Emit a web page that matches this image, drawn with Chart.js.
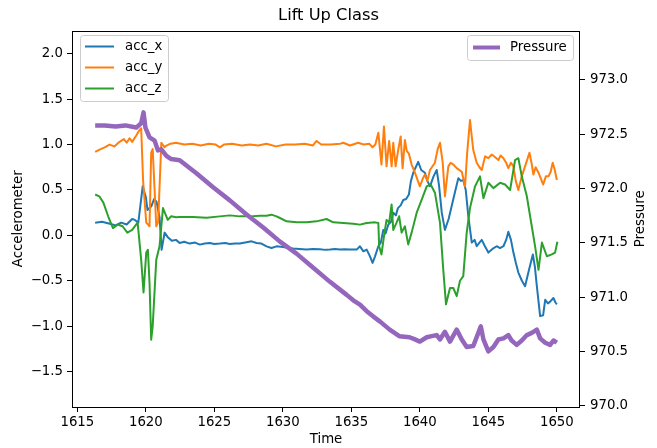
<!DOCTYPE html>
<html><head><meta charset="utf-8">
<script src="https://cdn.jsdelivr.net/npm/chart.js@4"></script>
<style>html,body{margin:0;padding:0;background:#fff}canvas{display:block}</style>
</head><body>
<canvas id="c" width="657" height="448"></canvas>
<script>
const chartTitle = 'Lift Up Class';
const seriesNames = ['acc_x', 'acc_y', 'acc_z'];
const pressureName = 'Pressure';

const timeX = [1616.3,1616.8,1617.3,1617.8,1618.2,1618.6,1619.0,1619.2,1619.45,1619.77,1620.0,1620.12,1620.4,1620.6,1620.78,1621.0,1621.15,1621.37,1621.6,1621.9,1622.2,1622.47,1622.8,1623.2,1623.6,1623.94,1624.3,1624.67,1625.0,1625.4,1625.8,1626.13,1626.5,1626.86,1627.35,1627.72,1628.08,1628.44,1628.81,1629.17,1629.54,1630.02,1630.4,1630.76,1631.2,1631.73,1632.2,1632.7,1633.1,1633.44,1633.8,1634.17,1634.5,1634.9,1635.39,1635.63,1635.88,1636.12,1636.36,1636.55,1636.73,1636.97,1637.15,1637.33,1637.5,1637.7,1637.9,1638.06,1638.25,1638.4,1638.6,1638.79,1639.0,1639.2,1639.35,1639.52,1639.7,1639.88,1640.1,1640.37,1640.55,1640.74,1641.0,1641.23,1641.4,1641.6,1641.83,1642.1,1642.32,1642.6,1642.81,1643.0,1643.17,1643.35,1643.54,1643.79,1644.0,1644.15,1644.35,1644.52,1644.75,1645.0,1645.3,1645.61,1645.85,1646.1,1646.3,1646.46,1646.65,1646.83,1647.0,1647.19,1647.45,1647.68,1647.92,1648.1,1648.25,1648.4,1648.54,1648.78,1649.0,1649.15,1649.35,1649.51,1649.75,1649.9,1650.0];
const accX = [0.14,0.15,0.13,0.11,0.14,0.12,0.18,0.17,0.14,0.54,0.42,0.28,0.32,0.4,0.37,0.2,-0.16,0.03,-0.02,-0.06,-0.05,-0.084,-0.07,-0.091,-0.08,-0.102,-0.09,-0.084,-0.095,-0.091,-0.085,-0.095,-0.09,-0.091,-0.077,-0.066,-0.084,-0.091,-0.121,-0.139,-0.121,-0.128,-0.14,-0.146,-0.15,-0.157,-0.15,-0.152,-0.16,-0.157,-0.15,-0.157,-0.153,-0.157,-0.157,-0.121,-0.176,-0.157,-0.231,-0.304,-0.231,-0.12,-0.08,0.06,0.02,0.12,0.15,0.25,0.22,0.3,0.33,0.39,0.4,0.45,0.6,0.69,0.75,0.81,0.72,0.69,0.6,0.54,0.65,0.72,0.55,0.25,0.06,0.18,0.32,0.5,0.63,0.6,0.61,0.5,0.21,-0.08,-0.05,-0.12,-0.08,-0.05,-0.12,-0.19,-0.15,-0.12,-0.14,-0.12,-0.05,0.04,-0.05,-0.19,-0.3,-0.41,-0.5,-0.56,-0.41,-0.3,-0.21,-0.35,-0.56,-0.89,-0.88,-0.71,-0.75,-0.73,-0.69,-0.74,-0.76];

const timeY = [1616.3,1616.7,1617.0,1617.35,1617.7,1618.08,1618.4,1618.6,1618.81,1619.0,1619.3,1619.54,1619.66,1619.8,1620.03,1620.27,1620.39,1620.5,1620.64,1620.76,1620.9,1621.13,1621.37,1621.4,1621.8,1622.2,1622.8,1623.4,1624.0,1624.6,1625.1,1625.4,1625.7,1626.3,1627.0,1627.6,1628.2,1628.8,1629.5,1630.2,1630.9,1631.6,1632.2,1632.46,1632.8,1633.5,1634.2,1634.41,1634.9,1635.5,1635.9,1636.3,1636.55,1636.75,1636.97,1637.2,1637.38,1637.57,1637.76,1637.94,1638.06,1638.23,1638.42,1638.6,1638.74,1638.91,1639.04,1639.2,1639.4,1639.64,1640.0,1640.2,1640.37,1640.55,1640.74,1641.1,1641.3,1641.47,1641.67,1641.83,1642.08,1642.25,1642.44,1642.69,1643.06,1643.3,1643.45,1643.66,1643.9,1644.15,1644.35,1644.52,1644.76,1645.0,1645.25,1645.5,1645.73,1645.9,1646.1,1646.3,1646.46,1646.65,1646.83,1647.0,1647.19,1647.44,1647.68,1648.0,1648.15,1648.29,1648.45,1648.66,1648.85,1649.0,1649.2,1649.39,1649.55,1649.7,1649.85,1650.0];
const accY = [0.92,0.95,0.97,1.0,0.98,1.03,1.06,1.02,1.07,1.03,1.1,1.16,1.18,0.6,0.14,0.1,0.91,0.95,0.5,0.1,0.15,1.02,0.97,0.98,1.01,1.02,1.0,1.01,0.99,1.01,1.0,0.97,1.0,1.01,0.99,1.0,0.99,1.01,0.98,1.0,1.0,1.01,0.99,1.04,1.0,1.0,1.01,1.02,0.99,1.02,1.0,1.01,0.97,1.0,1.13,0.78,1.2,0.76,1.04,0.76,1.02,0.76,0.94,1.09,0.74,1.05,0.93,0.9,0.78,0.69,0.54,0.62,0.67,0.6,0.72,0.8,0.95,1.02,0.8,0.43,0.76,0.8,0.78,0.74,0.7,0.54,0.9,1.27,0.94,0.8,0.75,0.72,0.87,0.85,0.89,0.86,0.83,0.88,0.85,0.8,0.74,0.8,0.76,0.6,0.5,0.65,0.76,0.91,0.8,0.67,0.75,0.69,0.62,0.56,0.65,0.65,0.7,0.8,0.72,0.61];

const timeZ = [1616.3,1616.6,1616.9,1617.25,1617.6,1617.95,1618.3,1618.65,1619.0,1619.4,1619.66,1619.83,1620.03,1620.15,1620.27,1620.39,1620.5,1620.76,1621.0,1621.25,1621.6,1621.85,1622.2,1622.47,1623.45,1624.43,1625.4,1626.13,1626.86,1627.6,1628.33,1628.81,1629.17,1629.54,1629.79,1630.27,1631.0,1631.73,1632.46,1633.19,1633.68,1634.41,1635.14,1635.63,1636.12,1636.73,1636.97,1637.03,1637.2,1637.38,1637.57,1637.76,1637.94,1638.06,1638.3,1638.49,1638.67,1638.91,1639.15,1639.4,1639.77,1640.13,1640.5,1640.79,1641.1,1641.47,1641.71,1641.91,1642.2,1642.44,1642.69,1642.93,1643.17,1643.42,1643.66,1644.03,1644.39,1644.64,1645.0,1645.37,1645.86,1646.22,1646.59,1646.95,1647.19,1647.44,1647.81,1648.17,1648.42,1648.66,1648.91,1649.27,1649.63,1649.87,1650.04];
const accZ = [0.45,0.43,0.36,0.21,0.08,0.12,0.1,0.03,0.06,0.14,-0.27,-0.63,-0.19,-0.16,-0.53,-1.15,-1.0,-0.27,-0.12,0.3,0.17,0.21,0.2,0.202,0.202,0.195,0.209,0.22,0.209,0.209,0.216,0.216,0.228,0.209,0.191,0.154,0.143,0.143,0.154,0.18,0.143,0.136,0.129,0.118,0.136,0.143,0.136,-0.12,-0.21,-0.01,0.17,0.14,0.34,0.06,0.14,0.21,0.03,0.1,-0.1,0.03,0.25,0.39,0.54,0.56,0.47,0.14,-0.38,-0.76,-0.58,-0.58,-0.67,-0.5,-0.45,0.03,0.3,0.54,0.65,0.41,0.58,0.52,0.58,0.56,0.5,0.83,0.85,0.65,0.43,0.1,-0.13,-0.38,-0.08,-0.23,-0.21,-0.19,-0.07];

const timeP = [1616.3,1617.0,1617.8,1618.5,1619.3,1619.66,1619.83,1619.97,1620.27,1620.64,1620.88,1621.13,1621.5,1621.85,1622.47,1623.69,1624.91,1626.13,1627.35,1628.57,1629.79,1631.0,1632.22,1633.44,1634.66,1635.14,1635.63,1636.12,1636.61,1637.1,1637.8,1638.5,1639.25,1639.64,1640.0,1640.5,1640.86,1641.23,1641.47,1641.83,1642.2,1642.69,1643.06,1643.42,1643.9,1644.27,1644.45,1644.64,1645.0,1645.37,1645.73,1646.1,1646.46,1646.7,1647.07,1647.44,1647.81,1648.17,1648.54,1648.78,1649.15,1649.51,1649.75,1650.0];
const pressure = [972.58,972.58,972.57,972.58,972.56,972.6,972.7,972.56,972.47,972.44,972.35,972.36,972.3,972.27,972.26,972.14,972.01,971.89,971.76,971.64,971.51,971.4,971.27,971.14,971.02,970.97,970.93,970.87,970.82,970.774,970.7,970.64,970.63,970.61,970.59,970.63,970.64,970.65,970.61,970.68,970.59,970.7,970.61,970.54,970.55,970.67,970.73,970.61,970.5,970.54,970.61,970.62,970.65,970.6,970.56,970.6,970.65,970.67,970.7,970.62,970.58,970.56,970.6,970.58];

const xTicks = [1615, 1620, 1625, 1630, 1635, 1640, 1645, 1650];
const accTicks = [-1.5, -1.0, -0.5, 0.0, 0.5, 1.0, 1.5, 2.0];
const pressureTicks = [970.0, 970.5, 971.0, 971.5, 972.0, 972.5, 973.0];

const FONT = "'DejaVu Sans', sans-serif";
Chart.defaults.font.family = FONT;
Chart.defaults.font.size = 13.3;
Chart.defaults.color = '#000';

const toPts = (t, v) => t.map((x, i) => ({x: x, y: v[i]}));
const fmt1 = v => Number(v).toFixed(1).replace('-', '\u2212');
const tickGrid = {display: true, drawOnChartArea: false, drawTicks: true, tickLength: 5, color: '#000', lineWidth: 1};

const framePlugin = {
  id: 'frameAndLegends',
  afterDraw(chart) {
    const ctx = chart.ctx;
    const a = chart.chartArea;
    ctx.save();
    ctx.strokeStyle = '#000';
    ctx.lineWidth = 1;
    ctx.strokeRect(Math.round(a.left) + 0.5, Math.round(a.top) + 0.5, Math.round(a.right) - Math.round(a.left) - 1, Math.round(a.bottom) - Math.round(a.top));
    ctx.fillStyle = '#000';
    ctx.font = '13.3px ' + FONT;
    ctx.textAlign = 'center';
    ctx.textBaseline = 'middle';
    ctx.save();
    ctx.translate(640.5, (a.top + a.bottom) / 2);
    ctx.rotate(-Math.PI / 2);
    ctx.fillText(pressureName, 0, 0);
    ctx.restore();
    const box = (x, y, w, h, r) => {
      ctx.beginPath();
      ctx.moveTo(x + r, y);
      ctx.lineTo(x + w - r, y); ctx.arcTo(x + w, y, x + w, y + r, r);
      ctx.lineTo(x + w, y + h - r); ctx.arcTo(x + w, y + h, x + w - r, y + h, r);
      ctx.lineTo(x + r, y + h); ctx.arcTo(x, y + h, x, y + h - r, r);
      ctx.lineTo(x, y + r); ctx.arcTo(x, y, x + r, y, r);
      ctx.closePath();
      ctx.fillStyle = 'rgba(255,255,255,0.8)';
      ctx.fill();
      ctx.strokeStyle = '#cccccc';
      ctx.lineWidth = 1;
      ctx.stroke();
    };
    const ds = chart.data.datasets;
    box(80.5, 35.5, 88, 66, 3);
    const rows = [46.5, 67.5, 88.5];
    for (let i = 0; i < 3; i++) {
      ctx.strokeStyle = ds[i].borderColor;
      ctx.lineWidth = 2;
      ctx.beginPath(); ctx.moveTo(85, rows[i]); ctx.lineTo(114, rows[i]); ctx.stroke();
      ctx.fillStyle = '#000';
      ctx.textAlign = 'left';
      ctx.textBaseline = 'middle';
      ctx.fillText(ds[i].label, 125, rows[i]);
    }
    box(467.5, 35.5, 106, 25, 3);
    ctx.strokeStyle = ds[3].borderColor;
    ctx.lineWidth = 4;
    ctx.beginPath(); ctx.moveTo(473, 47.5); ctx.lineTo(500, 47.5); ctx.stroke();
    ctx.fillStyle = '#000';
    ctx.fillText(ds[3].label, 510, 47.5);
    ctx.restore();
  }
};

const lineDs = (label, pts, color, width, axis, order) => ({
  label: label, data: pts, borderColor: color, backgroundColor: color,
  borderWidth: width, pointRadius: 0, pointHoverRadius: 0, tension: 0,
  fill: false, yAxisID: axis, order: order, borderJoinStyle: 'round'
});

new Chart(document.getElementById('c'), {
  type: 'line',
  data: {
    datasets: [
      lineDs(seriesNames[0], toPts(timeX, accX), '#1f77b4', 2, 'y', 4),
      lineDs(seriesNames[1], toPts(timeY, accY), '#ff7f0e', 2, 'y', 3),
      lineDs(seriesNames[2], toPts(timeZ, accZ), '#2ca02c', 2, 'y', 2),
      lineDs(pressureName, toPts(timeP, pressure), '#9467bd', 4.5, 'y1', 1)
    ]
  },
  options: {
    responsive: false,
    animation: false,
    devicePixelRatio: 1,
    layout: {padding: 0},
    plugins: {
      legend: {display: false},
      tooltip: {enabled: false},
      title: {display: true, text: chartTitle, color: '#000', font: {size: 16.3, weight: 'normal'}, padding: {top: 6, bottom: 5}}
    },
    scales: {
      x: {
        type: 'linear', position: 'bottom', min: 1614.61, max: 1651.69,
        afterBuildTicks: s => { s.ticks = xTicks.map(v => ({value: v})); },
        afterFit: s => { s.height = 41; },
        ticks: {callback: v => String(v), padding: 3, maxRotation: 0, autoSkip: false, color: '#000'},
        grid: tickGrid, border: {display: false},
        title: {display: true, text: 'Time', color: '#000', padding: {top: 0, bottom: 0}}
      },
      y: {
        type: 'linear', position: 'left', min: -1.891, max: 2.256,
        afterBuildTicks: s => { s.ticks = accTicks.map(v => ({value: v})); },
        afterFit: s => { s.width = 72; },
        ticks: {callback: v => fmt1(v), padding: 4, autoSkip: false, color: '#000'},
        grid: tickGrid, border: {display: false},
        title: {display: true, text: 'Accelerometer', color: '#000', padding: {top: 11, bottom: 0}}
      },
      y1: {
        type: 'linear', position: 'right', min: 969.988, max: 973.453,
        afterBuildTicks: s => { s.ticks = pressureTicks.map(v => ({value: v})); },
        afterFit: s => { s.width = 77; },
        ticks: {callback: v => fmt1(v), padding: 5, autoSkip: false, color: '#000'},
        grid: tickGrid, border: {display: false},
        title: {display: false}
      }
    }
  },
  plugins: [framePlugin]
});
</script>
</body></html>
